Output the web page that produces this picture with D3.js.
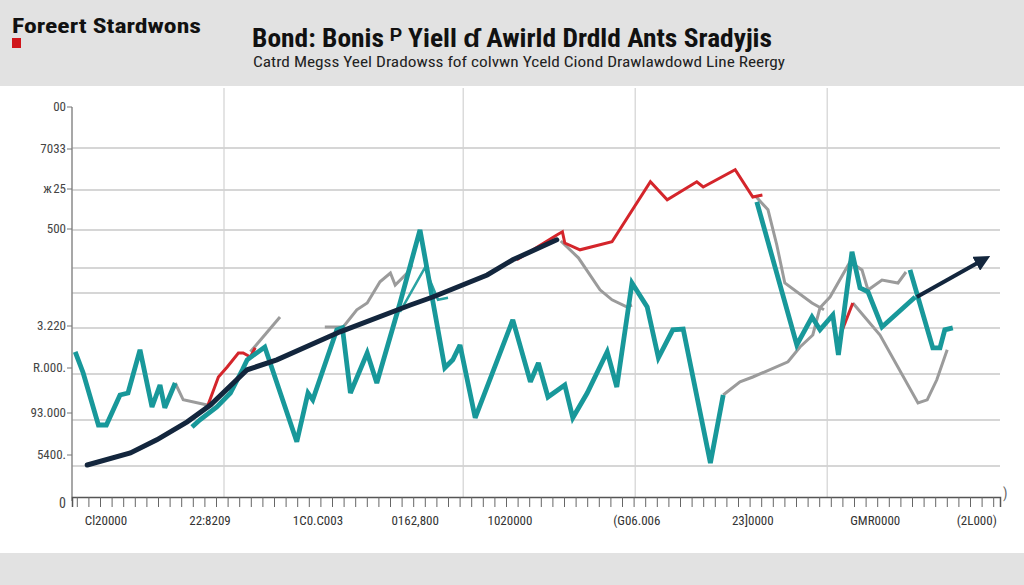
<!DOCTYPE html>
<html><head><meta charset="utf-8">
<script src="https://cdn.jsdelivr.net/npm/d3@7/dist/d3.min.js"></script>
<style>
html,body{margin:0;padding:0;background:#fff;}
svg{display:block;}
</style></head>
<body>
<svg id="chart" width="1024" height="585"></svg>
<script>
// ---- data (abstract units) ----
const brandText = "Foreert Stardwons";
const titleText = "Bond: Bonis \u1D3E Yiell \u0257 Awirld Drdld Ants Sradyjis";
const subtitleText = "Catrd Megss Yeel Dradowss fof colvwn Yceld Ciond Drawlawdowd  Line Reergy";

const xTickLabels = ["Cl20000","22:8209","1C0.C003","0162,800","1020000","(G06.006","23]0000","GMR0000","(2L000)"];
const xTickPos    = [4.25, 17.25, 30.75, 42.9, 54.75, 70.6, 85.1, 100.4, 113.1];
const xGridPos    = [19, 48.9, 70.4, 94.4];

const yTickLabels = ["00","7033","\u0436\u200A25","500","3.220","R.000.","93.000","5400."];
const yTickPos    = [97.5, 87, 77, 67, 42.75, 32.25, 21, 10.5];
const yGridPos    = [87.25, 76.75, 66.75, 57.25, 51, 42.25, 30.75, 19.25, 7.75];

const tealA = [[0.4,36.3],[1.4,31],[3.3,18],[4.3,18],[6,25.5],[7,26],[8.5,36.8],[10,22.5],[11,28],[11.6,22.3],[12.9,28.5]];
const tealB = [[15,17.5],[16,19.3],[18.1,22.5],[19.8,26],[21.3,31.8],[21.9,34.3],[24.1,37.5],[28.1,13.8],[29.5,26],[30.1,24.3],[33.1,41.8],[33.8,42.3],[34.8,26],[36.9,36],[38.1,28.5],[41,48.5],[43.5,66.8],[46.6,32.3],[47.6,34.3],[48.5,38],[50.4,19.8],[55.1,44.3],[57.3,28.8],[58.3,33.5],[59.5,25],[61.6,28],[62.6,19.8],[64.4,26],[66.9,36.3],[68.1,27.5],[70,53.5],[71.9,47.5],[73.3,34.8],[75.1,41.8],[76.4,42],[79.8,8.5],[81.4,25.5]];
const tealC = [[85.6,73.8],[90.6,38],[92.5,45],[93.5,41.8],[95.1,45.5],[95.8,35.5],[97.5,61.3],[98.5,52.3],[99.5,51.3],[101.25,42.5],[105.4,50]];
const tealD = [[104.75,56.8],[107.6,37.3],[108.5,37.3],[109.1,41.8],[110.1,42.3]];
const tealThin = [[41,46.3],[44.1,57.3],[45.75,49.3],[47,49.8]];

const navyTrend = [[1.9,8],[7.3,11],[10.6,14.3],[14.4,18.8],[17.3,23],[21.9,31.8],[25.6,34.3],[33.5,41.3],[42.3,48],[45.1,50],[51.9,55.5],[55.1,59.3],[60.6,64.3]];
const navyArrow = [[105.6,50],[113.9,59.3]];

const redA = [[17,23],[18.3,30],[19.4,32.5],[20.8,36],[21.4,36],[22.3,35],[22.9,37.3]];
const redB = [[55.6,59.3],[60.6,65.5],[61.3,66.3],[61.6,63.5],[63.5,61.8],[67.5,63.8],[72.3,78.8],[74.4,74.3],[78.1,78.8],[78.9,77.5],[82.9,81.8],[85.1,75],[86.3,75.5]];
const redC = [[96.3,41.8],[97.6,48.5]];

const grayA = [[12.9,28.5],[13.9,24.3],[16.9,23]];
const grayB = [[22.3,36.3],[26,45]];
const grayC = [[31.6,42.5],[33.9,42.5],[35.6,46.8],[36.9,48.5],[38.5,53.8],[39.8,56],[40.4,53],[41.9,56],[42.5,58]];
const grayD = [[61.1,64],[63.3,59.8],[66,51.8],[67.5,49.3],[69.4,47.5],[70,48]];
const grayE = [[81.4,25.5],[83.5,28.8],[85.1,30],[89.5,33.8],[91,37.5],[92.6,40.5],[93.5,47.3],[94.75,50],[97.25,58.75],[98.75,56.75],[99.5,51.75],[101.25,54.25],[103.25,53.5],[104.25,56.25]];
const grayF = [[85.4,75.3],[87,71.8],[88.1,63],[89.1,53.5],[92.5,48.5],[94,46.8]];
const grayG = [[97.6,48.5],[101,40.5],[105.75,23.5],[106.9,24.3],[108.1,29.3],[109.4,36.8]];

// ---- drawing ----
const svg = d3.select("#chart");
const W = 1024, H = 585;
const x = d3.scaleLinear().domain([0,116]).range([72,1000]);
const y = d3.scaleLinear().domain([0,100]).range([497,97]);
const narrow = "'Liberation Sans Narrow','Arial Narrow','Roboto Condensed','Liberation Sans',sans-serif";

// backgrounds
svg.append("rect").attr("x",0).attr("y",0).attr("width",W).attr("height",H).attr("fill","#e2e2e2");
svg.append("rect").attr("x",0).attr("y",86).attr("width",W).attr("height",467).attr("fill","#ffffff");

// header
svg.append("text").attr("x",12).attr("y",33).text(brandText)
  .attr("font-family",narrow).attr("font-weight","bold").attr("font-size",21).attr("fill","#111")
  .attr("textLength",189).attr("lengthAdjust","spacingAndGlyphs");
svg.append("rect").attr("x",12).attr("y",38).attr("width",9).attr("height",10).attr("fill","#d0161b");
svg.append("text").attr("x",512).attr("y",47).attr("text-anchor","middle").text(titleText)
  .attr("font-family",narrow).attr("font-weight","bold").attr("font-size",25).attr("fill","#111")
  .attr("textLength",520).attr("lengthAdjust","spacingAndGlyphs");
svg.append("text").attr("x",519).attr("y",67).attr("text-anchor","middle").text(subtitleText)
  .attr("font-family",narrow).attr("font-size",14).attr("fill","#222")
  .attr("textLength",532).attr("lengthAdjust","spacingAndGlyphs");

// grid
const grid = svg.append("g");
grid.selectAll("line.h").data(yGridPos).join("line")
  .attr("x1",x(0)).attr("x2",x(116)).attr("y1",d=>y(d)).attr("y2",d=>y(d))
  .attr("stroke","#c9c9c9").attr("stroke-width",1.3);
grid.selectAll("line.v").data(xGridPos).join("line")
  .attr("x1",d=>x(d)).attr("x2",d=>x(d)).attr("y1",88).attr("y2",y(0))
  .attr("stroke","#d2d2d2").attr("stroke-width",1.2);

// y axis
svg.append("line").attr("x1",x(0)).attr("x2",x(0)).attr("y1",y(97.5)).attr("y2",y(-1)).attr("stroke","#8a8a8a").attr("stroke-width",1.5);
const yt = svg.append("g");
yt.selectAll("line").data(yTickPos).join("line")
  .attr("x1",x(0)-5).attr("x2",x(0)).attr("y1",d=>y(d)).attr("y2",d=>y(d)).attr("stroke","#777");
yt.selectAll("text").data(yTickLabels).join("text")
  .attr("x",x(0)-6).attr("y",(d,i)=>y(yTickPos[i])+4).attr("text-anchor","end").text(d=>d)
  .attr("font-family",narrow).attr("font-size",13).attr("fill","#444");
svg.append("text").attr("x",66).attr("y",y(-1.5)+5).attr("text-anchor","end").text("0")
  .attr("font-family",narrow).attr("font-size",14).attr("fill","#444");

// x axis with many minor ticks
const xAxis = d3.axisBottom(x).tickValues(d3.range(0.6,116,1.45)).tickSize(10).tickFormat("");
const xa = svg.append("g").attr("transform",`translate(0,${y(0)})`).call(xAxis);
xa.select(".domain").attr("stroke","#555").attr("stroke-width",1.5);
xa.selectAll(".tick line").attr("stroke","#666").attr("stroke-width",1);
svg.selectAll("text.xl").data(xTickLabels).join("text").attr("class","xl")
  .attr("x",(d,i)=>x(xTickPos[i])).attr("y",525).attr("text-anchor","middle").text(d=>d)
  .attr("font-family",narrow).attr("font-size",13).attr("fill","#333");
svg.append("text").attr("x",1003).attr("y",498).text(")").attr("font-family",narrow).attr("font-size",14).attr("fill","#666");

// lines
const line = d3.line().x(d=>x(d[0])).y(d=>y(d[1]));
function draw(data, color, w){
  return svg.append("path").datum(data).attr("d",line).attr("fill","none")
    .attr("stroke",color).attr("stroke-width",w).attr("stroke-linejoin","miter").attr("stroke-miterlimit",3);
}
[grayA,grayB,grayC,grayD,grayE,grayF,grayG].forEach(s=>draw(s,"#9b9b9b",3));
draw(tealThin,"#2aa3a3",2.5);
[redA,redB,redC].forEach(s=>draw(s,"#d4252b",3));
[tealA,tealB,tealC,tealD].forEach(s=>draw(s,"#18989a",4.8));
draw(navyTrend,"#13263d",5).attr("stroke-linecap","round");

// arrowhead marker
const defs = svg.append("defs");
defs.append("marker").attr("id","arr").attr("viewBox","0 0 10 10").attr("refX",5).attr("refY",5)
  .attr("markerWidth",4).attr("markerHeight",4).attr("orient","auto")
  .append("path").attr("d","M0,0 L10,5 L0,10 z").attr("fill","#13263d");
draw(navyArrow,"#13263d",4).attr("marker-end","url(#arr)");
</script>
</body></html>
